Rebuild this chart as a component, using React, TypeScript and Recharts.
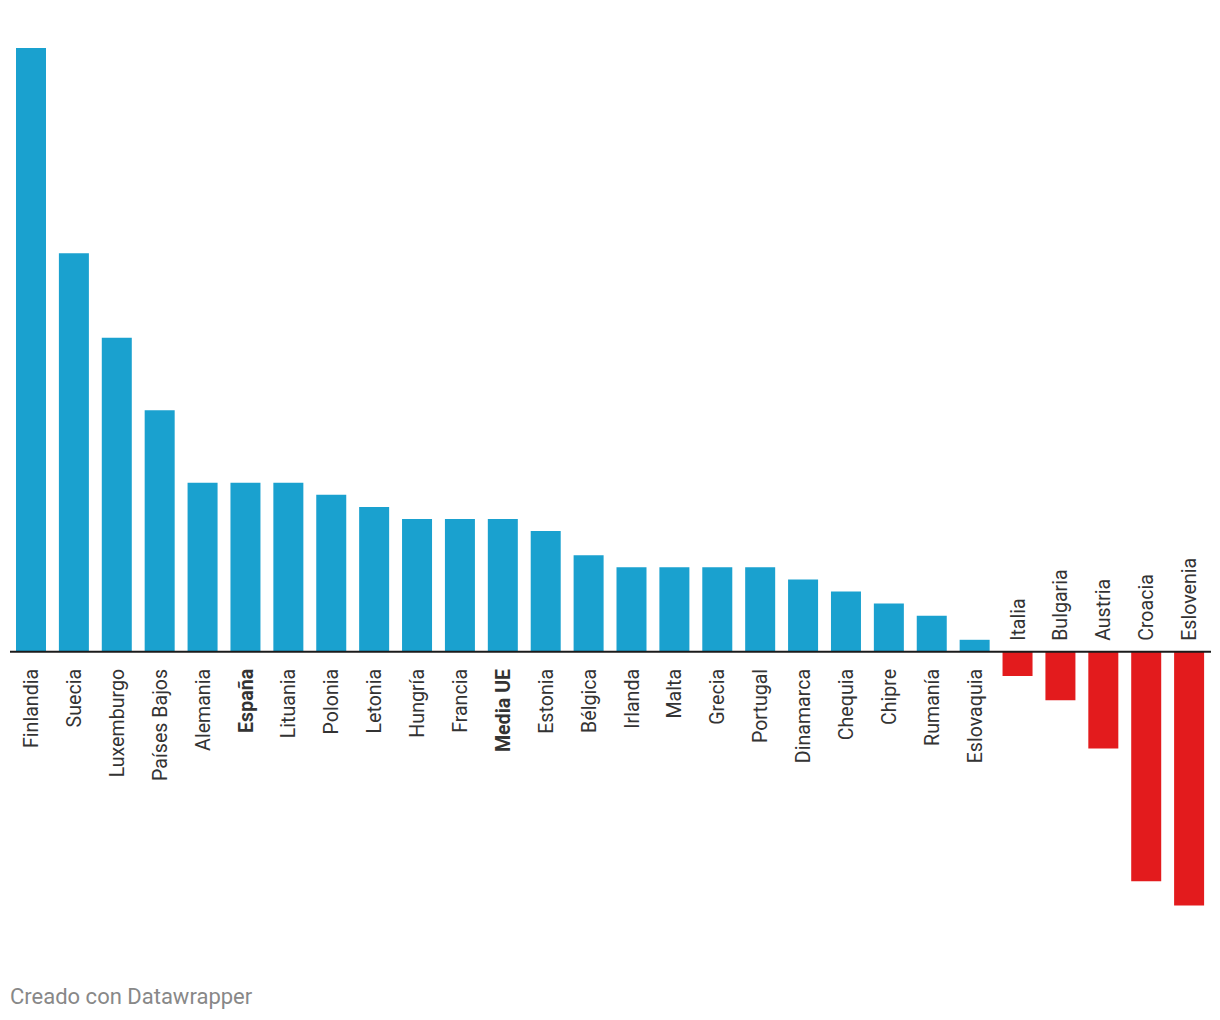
import { BarChart, Bar, XAxis, YAxis, ReferenceLine, LabelList, Cell } from "recharts";

const countries = [
  "Finlandia", "Suecia", "Luxemburgo", "Países Bajos", "Alemania", "España", "Lituania",
  "Polonia", "Letonia", "Hungría", "Francia", "Media UE", "Estonia", "Bélgica", "Irlanda",
  "Malta", "Grecia", "Portugal", "Dinamarca", "Chequia", "Chipre", "Rumanía", "Eslovaquia",
  "Italia", "Bulgaria", "Austria", "Croacia", "Eslovenia",
];

const values = [
  50, 33, 26, 20, 14, 14, 14, 13, 12, 11, 11, 11, 10, 8, 7, 7, 7, 7, 6, 5, 4, 3, 1,
  -2, -4, -8, -19, -21,
];

const highlighted = ["España", "Media UE"];

const BLUE = "#1aa1cf";
const RED = "#e31b1d";

const data = countries.map((name, i) => ({ name, value: values[i] }));

function CountryLabel(props: any) {
  const { x, y, width, height, index } = props;
  const name = countries[index];
  const value = values[index];
  const zero = y + height;
  const cx = x + width / 2;
  const positive = value >= 0;
  const ty = positive ? zero + 17 : zero - 11;
  return (
    <text
      transform={`translate(${cx},${ty}) rotate(-90)`}
      textAnchor={positive ? "end" : "start"}
      dy="0.36em"
      fontFamily="Roboto, sans-serif"
      fontSize={19.6}
      fontWeight={highlighted.includes(name) ? 700 : 400}
      fill="#333333"
    >
      {name}
    </text>
  );
}

export default function App() {
  return (
    <div style={{ position: "relative", width: 1220, height: 1020, background: "#fff" }}>
      <style>{"body{margin:0}"}</style>
      <BarChart
        width={1220}
        height={1020}
        data={data}
        margin={{ top: 48, right: 9, bottom: 114.5, left: 10 }}
        barCategoryGap={0}
      >
        <XAxis dataKey="name" hide />
        <YAxis hide domain={[-21, 50]} />
        <Bar dataKey="value" barSize={30} isAnimationActive={false}>
          {data.map((d) => (
            <Cell key={d.name} fill={d.value >= 0 ? BLUE : RED} />
          ))}
          <LabelList dataKey="value" content={CountryLabel} />
        </Bar>
        <ReferenceLine y={0} stroke="#1b1b1b" strokeWidth={2} />
      </BarChart>
      <div
        style={{
          position: "absolute",
          left: 10,
          top: 984,
          fontFamily: "Roboto, sans-serif",
          fontSize: 22,
          color: "#888888",
        }}
      >
        Creado con Datawrapper
      </div>
    </div>
  );
}
